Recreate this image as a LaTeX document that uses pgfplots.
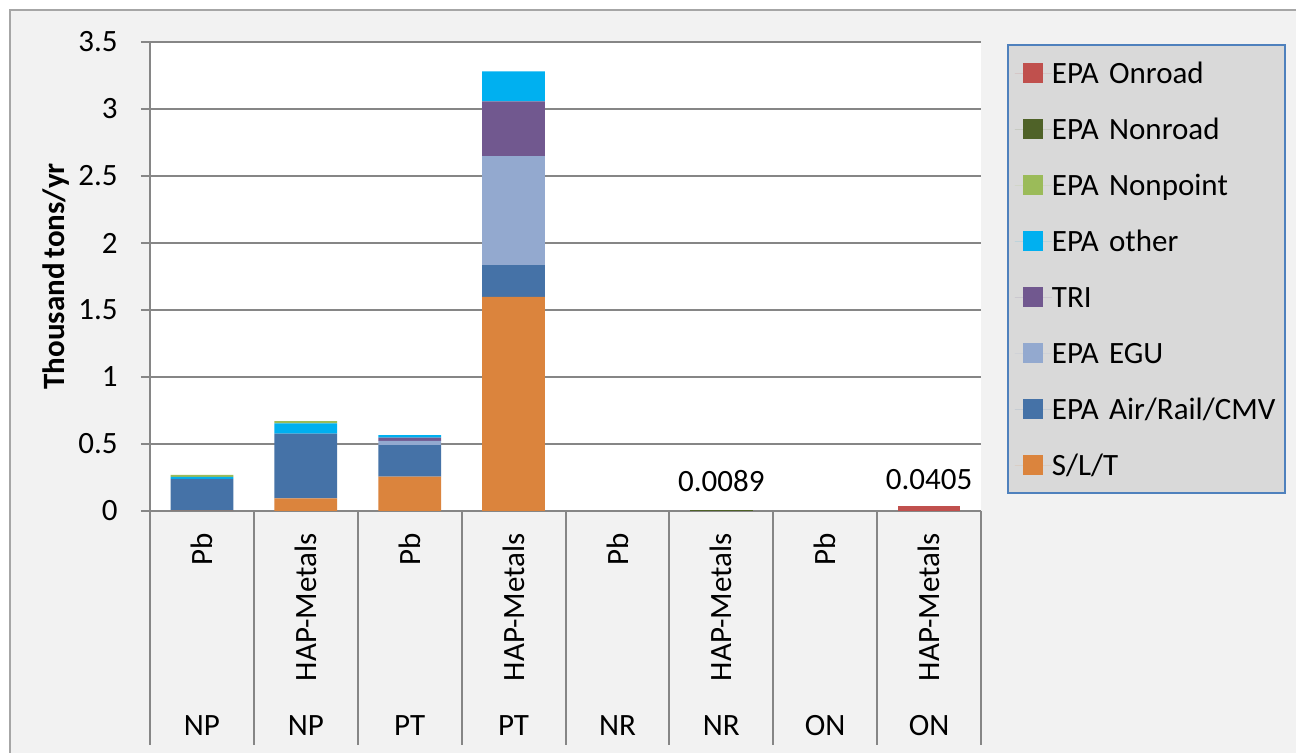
\documentclass[border=0pt]{standalone}
\usepackage{pgfplots}
\pgfplotsset{compat=1.18}
\usepackage{pgfplotstable}
\usepackage{graphicx}
\usepackage{fontspec}
\setmainfont{Carlito}[WordSpace=0.7]

\definecolor{onroad}{HTML}{C0504D}
\definecolor{nonroad}{HTML}{4F6228}
\definecolor{nonpoint}{HTML}{9BBB59}
\definecolor{epaother}{HTML}{00B0F0}
\definecolor{tri}{HTML}{71588F}
\definecolor{egu}{HTML}{93A9CF}
\definecolor{air}{HTML}{4572A7}
\definecolor{slt}{HTML}{DB843D}
\definecolor{gridc}{HTML}{868686}
\definecolor{bgc}{HTML}{F2F2F2}
\definecolor{legfill}{HTML}{D9D9D9}
\definecolor{legbord}{HTML}{4F81BD}

\newcommand\chartfont{\fontsize{15.5}{18}\selectfont}
% two-level category label: rotated pollutant on top, sector at the bottom
\newcommand\lab[2]{\parbox[t][101pt][t]{60pt}{\centering\rotatebox{90}{#1}\par\vfill #2}}

% values in thousand tons/yr
\pgfplotstableread{
x slt   air   egu   tri   other nonpoint nonroad onroad nrlab  onlab
0 0.003 0.237 0     0     0.015 0.015    0       0      {}     {}
1 0.095 0.483 0     0     0.075 0.018    0       0      {}     {}
2 0.257 0.234 0.033 0.024 0.018 0        0       0      {}     {}
3 1.598 0.237 0.813 0.409 0.224 0        0       0      {}     {}
4 0     0     0     0     0     0        0       0      {}     {}
5 0     0     0     0     0     0        0.0089  0      0.0089 {}
6 0     0     0     0     0     0        0       0      {}     {}
7 0     0     0     0     0     0        0       0.0405 {}     0.0405
}\datatable

\begin{document}
\begin{tikzpicture}
\useasboundingbox (0pt,0pt) rectangle (648pt,376.5pt);
\fill[bgc] (5pt,-20pt) rectangle (680pt,371.5pt);
\draw[black!35, line width=1pt] (5pt,-20pt) -- (5pt,371.5pt) -- (680pt,371.5pt);
\begin{axis}[
    at={(75pt,121pt)}, anchor=south west,
    scale only axis, width=415.5pt, height=234.5pt,
    axis background/.style={fill=white},
    ybar stacked, bar width=31.35pt,
    xmin=-0.5, xmax=7.5, ymin=0, ymax=3.5,
    enlargelimits=false,
    ytick={0,0.5,...,3.5},
    xtick={0,...,7},
    xticklabels={\lab{Pb}{NP}, \lab{HAP-Metals}{NP}, \lab{Pb}{PT}, \lab{HAP-Metals}{PT},
                 \lab{Pb}{NR}, \lab{HAP-Metals}{NR}, \lab{Pb}{ON}, \lab{HAP-Metals}{ON}},
    axis x line*=bottom, axis y line*=left,
    axis line style={gridc, line width=1pt, -},
    ymajorgrids, major grid style={gridc, line width=1pt},
    major tick length=4.5pt, tick align=outside,
    y tick style={gridc, line width=1pt},
    x tick style={draw=none},
    /pgf/number format/assume math mode=true,
    tick label style={font=\chartfont},
    yticklabel style={inner sep=0pt, xshift=-11.5pt},
    xticklabel style={anchor=north, inner sep=0pt, yshift=-6.5pt},
    ylabel={Thousand tons/yr},
    ylabel style={font=\chartfont\bfseries, at={(-0.1125,0.5)}, anchor=center},
    every node near coord/.append style={font=\chartfont, anchor=south, inner sep=0pt, yshift=9pt},
    legend cell align=left, reverse legend,
    legend style={at={(1.0313,0.9957)}, anchor=north west,
        fill=legfill, draw=legbord, line width=1pt,
        inner xsep=3.5pt, inner ysep=7pt, row sep=14pt, column sep=0pt,
        font=\chartfont,
        nodes={inner sep=0pt, text height=12pt, text depth=2pt, text width=113pt, align=left}},
    legend image code/.code={\path (-4pt,0pt) -- (14.5pt,0pt);
        \fill[#1] (0pt,-5pt) rectangle (10pt,5pt);},
]
\addplot[fill=slt, draw=none] table[x=x, y=slt] {\datatable};
\addplot[fill=air, draw=none] table[x=x, y=air] {\datatable};
\addplot[fill=egu, draw=none] table[x=x, y=egu] {\datatable};
\addplot[fill=tri, draw=none] table[x=x, y=tri] {\datatable};
\addplot[fill=epaother, draw=none] table[x=x, y=other] {\datatable};
\addplot[fill=nonpoint, draw=none] table[x=x, y=nonpoint] {\datatable};
\addplot[fill=nonroad, draw=none, nodes near coords, point meta=explicit symbolic]
    table[x=x, y=nonroad, meta=nrlab] {\datatable};
\addplot[fill=onroad, draw=none, nodes near coords, point meta=explicit symbolic]
    table[x=x, y=onroad, meta=onlab] {\datatable};
\legend{S/L/T, EPA Air/Rail/CMV, EPA EGU, TRI, EPA other, EPA Nonpoint, EPA Nonroad, EPA Onroad}
\end{axis}
% category separators below the plot area
\foreach \i in {0,...,8}
    \draw[gridc, line width=1pt] ({75pt+\i*51.9375pt},121pt) -- ++(0pt,-117pt);
\end{tikzpicture}
\end{document}
